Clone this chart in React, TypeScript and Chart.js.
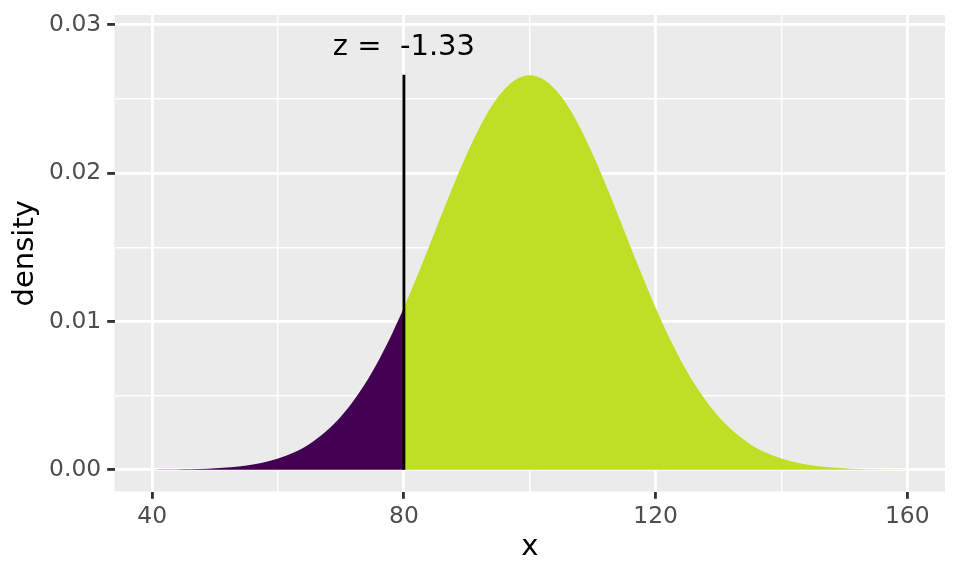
import React, { useEffect, useRef } from 'react';
import { Chart, registerables } from 'chart.js';

Chart.register(...registerables);

// x grid of the density curve
const xValues = [
  40, 42.5, 45, 47.5, 50, 52.5, 55, 57.5, 60, 62.5, 65, 67.5, 70, 72.5, 75, 77.5, 80,
  82.5, 85, 87.5, 90, 92.5, 95, 97.5, 100, 102.5, 105, 107.5, 110, 112.5, 115, 117.5, 120,
  122.5, 125, 127.5, 130, 132.5, 135, 137.5, 140, 142.5, 145, 147.5, 150, 152.5, 155, 157.5, 160,
];
// density values at those x (estimated from the curve)
const densityValues = [
  0.0000089, 0.0000172, 0.000032, 0.0000582, 0.000103, 0.000177, 0.000295, 0.00048, 0.00076,
  0.001169, 0.001748, 0.002544, 0.0036, 0.004955, 0.006633, 0.008635, 0.010934,
  0.013465, 0.016131, 0.018793, 0.021296, 0.023471, 0.02516, 0.026229, 0.026596,
  0.026229, 0.02516, 0.023471, 0.021296, 0.018793, 0.016131, 0.013465, 0.010934,
  0.008635, 0.006633, 0.004955, 0.0036, 0.002544, 0.001748, 0.001169, 0.00076,
  0.00048, 0.000295, 0.000177, 0.000103, 0.0000582, 0.000032, 0.0000172, 0.0000089,
];
const cutoffX = 80;
const lineTopY = 0.02663;
const annotationText = 'z =  -1.33';
const annotationY = 0.02845;
const xTickValues = [40, 60, 80, 100, 120, 140, 160];
const yTickValues = [0, 0.005, 0.01, 0.015, 0.02, 0.025, 0.03];
const xTitle = 'x';
const yTitle = 'density';

const FONT = '"DejaVu Sans", "Liberation Sans", sans-serif';

export default function App() {
  const canvasRef = useRef<HTMLCanvasElement | null>(null);

  useEffect(() => {
    document.body.style.margin = '0';
    const canvas = canvasRef.current;
    if (!canvas) return;

    const pts = xValues.map((x, i) => ({ x, y: densityValues[i] }));
    const leftPts = pts.filter((p) => p.x <= cutoffX);
    const rightPts = pts.filter((p) => p.x >= cutoffX);

    const bgPlugin = {
      id: 'panelBg',
      beforeDraw(chart: any) {
        const { ctx, chartArea } = chart;
        ctx.save();
        ctx.fillStyle = '#EBEBEB';
        ctx.fillRect(chartArea.left, chartArea.top, chartArea.right - chartArea.left, chartArea.bottom - chartArea.top);
        ctx.restore();
      },
    };

    const textPlugin = {
      id: 'texts',
      afterDraw(chart: any) {
        const { ctx, chartArea, scales } = chart;
        ctx.save();
        ctx.fillStyle = '#000000';
        ctx.font = `29px ${FONT}`;
        // annotation
        ctx.textAlign = 'center';
        ctx.textBaseline = 'middle';
        ctx.fillText(annotationText, scales.x.getPixelForValue(cutoffX), scales.y.getPixelForValue(annotationY));
        // x title
        ctx.textBaseline = 'alphabetic';
        ctx.fillText(xTitle, (chartArea.left + chartArea.right) / 2, chartArea.bottom + 63);
        // y title
        ctx.translate(33, (chartArea.top + chartArea.bottom) / 2);
        ctx.rotate(-Math.PI / 2);
        ctx.fillText(yTitle, 0, 0);
        ctx.restore();
      },
    };

    const gridOpts = {
      color: '#FFFFFF',
      lineWidth: (c: any) => (c.index % 2 === 0 ? 2.85 : 1.42),
      tickColor: (c: any) => (c.index % 2 === 0 ? '#333333' : 'rgba(0,0,0,0)'),
      tickWidth: 2.85,
      tickLength: 7.3,
      drawTicks: true,
    };

    const chart = new Chart(canvas, {
      type: 'scatter',
      data: {
        datasets: [
          {
            data: [
              { x: cutoffX, y: 0 },
              { x: cutoffX, y: lineTopY },
            ],
            showLine: true,
            borderColor: '#000000',
            borderWidth: 2.85,
            pointRadius: 0,
            fill: false,
          },
          {
            data: leftPts,
            showLine: true,
            borderColor: 'rgba(0,0,0,0)',
            borderWidth: 0.01,
            backgroundColor: '#440154',
            pointRadius: 0,
            fill: 'origin',
            cubicInterpolationMode: 'monotone',
          },
          {
            data: rightPts,
            showLine: true,
            borderColor: 'rgba(0,0,0,0)',
            borderWidth: 0.01,
            backgroundColor: '#BDDF26',
            pointRadius: 0,
            fill: 'origin',
            cubicInterpolationMode: 'monotone',
          },
        ],
      },
      options: {
        animation: false,
        responsive: false,
        devicePixelRatio: 1,
        layout: { padding: { top: 15, right: 15, left: 0, bottom: 0 } },
        plugins: { legend: { display: false }, tooltip: { enabled: false } },
        scales: {
          x: {
            type: 'linear',
            min: 34,
            max: 166,
            border: { display: false },
            grid: gridOpts as any,
            afterBuildTicks: (s: any) => {
              s.ticks = xTickValues.map((v) => ({ value: v }));
            },
            afterFit: (s: any) => {
              s.height = 84.5;
              s.paddingLeft = 0;
              s.paddingRight = 0;
              s.paddingTop = 0;
              s.paddingBottom = 0;
            },
            ticks: {
              autoSkip: false,
              maxRotation: 0,
              padding: 4,
              color: '#4D4D4D',
              font: { family: FONT, size: 23.4 },
              callback: (v: any, i: number) => (i % 2 === 0 ? String(v) : ''),
            },
          },
          y: {
            type: 'linear',
            min: -0.00146,
            max: 0.03066,
            border: { display: false },
            grid: gridOpts as any,
            afterBuildTicks: (s: any) => {
              s.ticks = yTickValues.map((v) => ({ value: v }));
            },
            afterFit: (s: any) => {
              s.width = 114.5;
              s.paddingLeft = 0;
              s.paddingRight = 0;
              s.paddingTop = 0;
              s.paddingBottom = 0;
            },
            ticks: {
              autoSkip: false,
              padding: 6,
              color: '#4D4D4D',
              font: { family: FONT, size: 23.4 },
              callback: (v: any, i: number) => (i % 2 === 0 ? Number(v).toFixed(2) : ''),
            },
          },
        },
      },
      plugins: [bgPlugin, textPlugin],
    });

    return () => chart.destroy();
  }, []);

  return (
    <div style={{ width: 960, height: 576 }}>
      <canvas ref={canvasRef} width={960} height={576} style={{ display: 'block', width: 960, height: 576 }} />
    </div>
  );
}
